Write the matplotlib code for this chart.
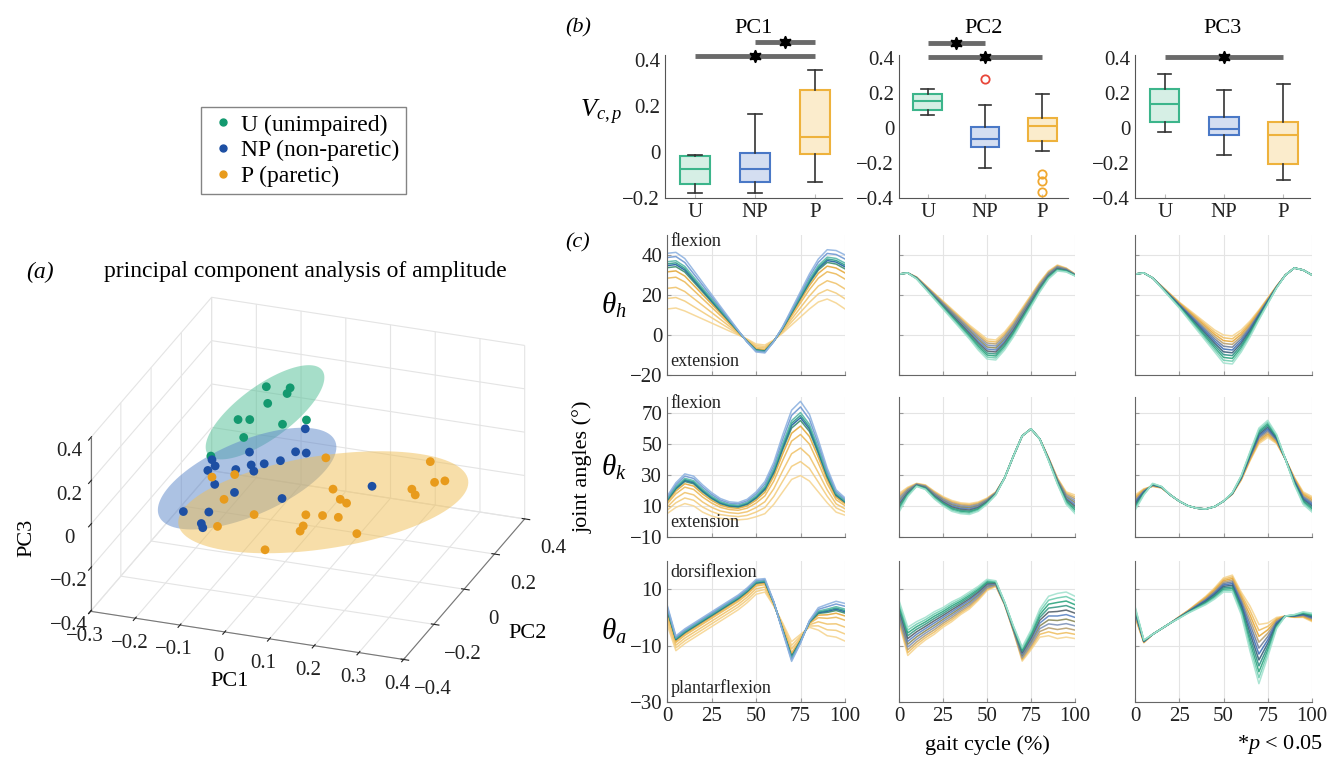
import numpy as np
import matplotlib
matplotlib.use("Agg")
import matplotlib.pyplot as plt
from matplotlib.lines import Line2D
from mpl_toolkits.mplot3d.art3d import Poly3DCollection

plt.rcParams['font.family'] = ['Liberation Serif', 'DejaVu Serif']
plt.rcParams['mathtext.fontset'] = 'custom'
plt.rcParams['mathtext.rm'] = 'Liberation Serif'
plt.rcParams['mathtext.it'] = 'Liberation Serif:italic'
plt.rcParams['mathtext.bf'] = 'Liberation Serif:bold'
plt.rcParams['grid.color'] = '#e4e4e4'
plt.rcParams['grid.linewidth'] = 0.8

# ---------------- data: (a) PCA scores ----------------
u_pc1 = [-0.11, -0.05, -0.05, -0.09, -0.18, -0.12, -0.04, 0.00, -0.12, -0.19]
u_pc2 = [0.20, 0.18, 0.16, 0.15, 0.22, 0.12, 0.10, 0.14, 0.08, 0.07]
u_pc3 = [0.21, 0.24, 0.23, 0.18, 0.02, 0.12, 0.14, 0.14, 0.07, -0.03]

np_pc1 = [-0.05, -0.08, 0.04, 0.03, -0.13, -0.15, -0.07, -0.11, -0.02, 0.04,
          -0.19, -0.05, -0.09, -0.10, 0.03, -0.15, -0.11, -0.12, -0.11, 0.15]
np_pc2 = [0.28, 0.00, -0.05, 0.05, -0.10, -0.02, -0.12, 0.10, -0.08, -0.15,
          0.05, -0.06, -0.20, -0.04, -0.11, -0.23, -0.18, -0.20, -0.22, 0.13]
np_pc3 = [-0.03, 0.08, 0.16, 0.07, 0.11, 0.01, 0.10, -0.07, 0.11, 0.20,
          -0.08, 0.05, 0.09, -0.08, -0.01, -0.03, -0.06, -0.10, -0.10, -0.11]

p_pc1 = [0.04, 0.26, -0.13, -0.13, 0.30, 0.34, 0.10, 0.30, 0.25, -0.12, 0.15,
         0.11, -0.09, 0.09, 0.08, 0.21, -0.05, 0.03, 0.04, 0.16, 0.08]
p_pc2 = [0.15, 0.19, 0.05, -0.10, 0.10, 0.05, 0.02, -0.05, 0.12, -0.05, -0.08,
         0.08, 0.06, -0.13, 0.01, -0.27, -0.30, 0.03, -0.02, 0.00, -0.37]
p_pc3 = [-0.03, -0.01, -0.08, 0.03, -0.02, 0.04, -0.05, 0.07, -0.11, -0.11, 0.00,
         -0.16, -0.26, -0.05, -0.17, 0.09, -0.01, -0.25, -0.23, -0.22, -0.02]

# confidence ellipses: centre and two semi-axis vectors (PC1, PC2, PC3)
u_ell_center = [-0.096, 0.15, 0.137]
u_ell_axis1 = [0.128, 0.0, 0.234]
u_ell_axis2 = [0.035, 0.0, -0.088]
np_ell_center = [-0.065, -0.06, 0.011]
np_ell_axis1 = [0.197, 0.0, 0.235]
np_ell_axis2 = [0.032, 0.0, -0.149]
p_ell_center = [0.085, 0.0, -0.099]
p_ell_axis1 = [0.324, 0.0, 0.204]
p_ell_axis2 = [0.014, 0.0, -0.208]

group_labels = ['U (unimpaired)', 'NP (non-paretic)', 'P (paretic)']

# ---------------- data: (b) box plots ----------------
box_labels = ['U', 'NP', 'P']
pc1_whislo = [-0.18, -0.18, -0.13]
pc1_q1 = [-0.14, -0.13, -0.01]
pc1_med = [-0.075, -0.074, 0.065]
pc1_q3 = [-0.02, -0.005, 0.27]
pc1_whishi = [-0.013, 0.165, 0.356]
pc1_fliers = [[], [], []]

pc2_whislo = [0.073, -0.229, -0.133]
pc2_q1 = [0.103, -0.11, -0.074]
pc2_med = [0.156, -0.063, 0.011]
pc2_q3 = [0.193, 0.004, 0.055]
pc2_whishi = [0.223, 0.13, 0.194]
pc2_fliers = [[], [0.278], [-0.265, -0.303, -0.367]]

pc3_whislo = [-0.021, -0.151, -0.295]
pc3_q1 = [0.035, -0.036, -0.203]
pc3_med = [0.138, -0.004, -0.036]
pc3_q3 = [0.223, 0.067, 0.035]
pc3_whishi = [0.312, 0.217, 0.255]
pc3_fliers = [[], [], []]

# significance bars: (from group, to group, level)
pc1_sig = [(1, 3, 0.417), (2, 3, 0.478)]
pc2_sig = [(1, 3, 0.407), (1, 2, 0.487)]
pc3_sig = [(1, 3, 0.41)]

# ---------------- data: (c) joint angle reconstructions ----------------
gait = [0, 5, 10, 15, 20, 25, 30, 35, 40, 45, 50, 55, 60, 65, 70, 75, 80, 85, 90, 95, 100]

hip_mean = [30.5, 31, 28.5, 24, 19.5, 15, 10.5, 6, 1.5, -3, -7, -7.5, -3, 3, 10, 17, 24, 30, 33.5, 32.5, 30]
knee_mean = [12, 19, 23.5, 22, 17, 13, 10, 8.5, 8, 9.5, 13, 18, 28, 42, 55, 59.5, 53, 40, 26, 15, 11]
ankle_mean = [2, -8.5, -6, -4, -2, 0, 2, 4, 6, 8.5, 11.5, 12, 5, -4, -13, -8, -2, 0.5, 0.5, 1, 0]

hip_pc1 = [17.5, 17.5, 16.5, 14, 11.5, 9, 6.5, 4, 1.5, -1, -2.5, -2.5, -0.5, 2, 5, 8, 11, 13.5, 15.5, 16.5, 17]
hip_pc2 = [0, 0, -0.5, -1, -1.5, -2, -2.5, -3, -3.5, -4.5, -5, -5, -4.5, -4, -3.5, -3, -2.5, -2, -1.5, -1, -0.5]
hip_pc3 = [0, 0, 0, -0.5, -1, -1.5, -2.5, -3.5, -4.5, -5.5, -7, -7, -5.5, -4, -2.5, -1.5, -0.5, 0, 0, 0, 0]

knee_pc1 = [7, 10, 12, 12, 11, 9.5, 8, 7, 7, 8, 10, 13, 17, 23, 28, 30, 27, 21, 14, 9, 7]
knee_pc2 = [-6, -3, -1, -1.5, -2.5, -3, -3.5, -3.5, -3.5, -3, -2, -1, 0, 0, 0, 0, 0, -1, -2, -4, -6]
knee_pc3 = [-5, -2, 1, 0.5, 0, 0, 0, 0, 0, 0, 0, 0.5, 1.5, 3, 5, 5.5, 3, 0, -2.5, -4, -5]

ankle_pc1 = [4.4, 3.3, 3.3, 3.3, 3.3, 3.3, 3.3, 3.3, 3.3, 3.3, 3.3, 3, 1, -2, -4.4, -2, 1.5, 5, 7, 8, 8.4]
ankle_pc2 = [4, 5, 4.5, 4, 4, 3.5, 3.5, 3, 3, 2.5, 2, 1, 0.5, 1, 2.5, 3.5, 5, 7, 8, 8, 7.5]
ankle_pc3 = [2, 0.5, 0, 0, 0, -0.3, -0.5, -1, -1.5, -2, -2.5, -3, -4, -8, -10.5, -6, -2, 0, 0.5, 1, 1.5]

pc1_scores = [-1.0, -0.7, -0.41, -0.12, 0.06, 0.18, 0.24, 0.29, 0.35, 0.47, 0.59]
pc2_scores = [-1.0, -0.8, -0.6, -0.4, -0.2, 0.0, 0.2, 0.4, 0.6, 0.8, 1.0]
pc3_scores = [-1.0, -0.8, -0.6, -0.4, -0.2, 0.0, 0.2, 0.4, 0.6, 0.8, 1.0]

# ---------------- styles ----------------
C_U, C_NP, C_P = '#13996f', '#1d4fa3', '#e89b1c'
box_edge = ['#3cb58b', '#4a78c6', '#eeb23c']
box_face = ['#d6efe5', '#d4def1', '#fbeccc']
flier_col = ['#3cb58b', '#e8473a', '#f0a830']

col1_colors = ['#f6d592', '#f3cd80', '#f0c46e', '#ecba5a', '#e4a93c', '#3c8f6e',
               '#1f5fa0', '#2f9a8a', '#58b8a8', '#6f98d2', '#8fb3e0']
col2_colors = ['#f6d592', '#efbf63', '#b8a070', '#7f93b8', '#8a8a5a', '#5c84c4',
               '#55606a', '#3a9a86', '#2ca57e', '#6fcdb0', '#a3e2cf']
col3_colors = ['#f6d592', '#efbf63', '#e6a83a', '#b8a070', '#6f7f9a', '#3f6fb6',
               '#3a5f7a', '#2f8f86', '#2ca57e', '#6fcdb0', '#a3e2cf']

W, H = 1342, 760
fig = plt.figure(figsize=(W / 100, H / 100), dpi=100)


def rect(l, t, r, b):
    return [l / W, 1 - b / H, (r - l) / W, (b - t) / H]


fmt = lambda v: '0' if abs(v) < 1e-9 else ('%g' % v).replace('-', '\u2212')

# ================= (a) 3D scatter =================
ax3 = fig.add_axes(rect(21, 240, 581, 730), projection='3d', proj_type='ortho',
                   computed_zorder=False)
ax3.patch.set_visible(False)
ax3.view_init(elev=25, azim=-70)
ax3.set_box_aspect((336, 357, 193), zoom=1.035)
ax3.set_xlim(-0.3, 0.4)
ax3.set_ylim(-0.4, 0.4)
ax3.set_zlim(-0.4, 0.4)
for axis in (ax3.xaxis, ax3.yaxis, ax3.zaxis):
    axis.set_pane_color((1, 1, 1, 0))
    axis.pane.set_edgecolor('#e4e4e4')
    axis.line.set_color('#777777')
ax3.zaxis.set_ticks_position('lower')
ax3.zaxis.set_label_position('lower')
ax3.set_xticks([-0.3, -0.2, -0.1, 0, 0.1, 0.2, 0.3, 0.4])
ax3.set_yticks([-0.4, -0.2, 0, 0.2, 0.4])
ax3.set_zticks([-0.4, -0.2, 0, 0.2, 0.4])
ax3.set_xticklabels([fmt(v) for v in ax3.get_xticks()])
ax3.set_yticklabels([fmt(v) for v in ax3.get_yticks()])
ax3.set_zticklabels([fmt(v) for v in ax3.get_zticks()])
ax3.tick_params(labelsize=15, colors='#222222')
ax3.tick_params(axis='x', pad=1)
ax3.tick_params(axis='y', pad=9)
ax3.tick_params(axis='z', pad=1)
ax3.set_xlabel('PC1', fontsize=16, labelpad=6)
ax3.set_ylabel('PC2', fontsize=16, labelpad=16)
ax3.zaxis.set_rotate_label(False)
ax3.set_zlabel('PC3', fontsize=16, labelpad=6, rotation=90)

t = np.linspace(0, 2 * np.pi, 120)
for cen, a1, a2, col, al in [
        (u_ell_center, u_ell_axis1, u_ell_axis2, '#4fbf94', 0.5),
        (np_ell_center, np_ell_axis1, np_ell_axis2, '#5b86c9', 0.5),
        (p_ell_center, p_ell_axis1, p_ell_axis2, '#f0bf55', 0.5)]:
    c = np.array(cen)[:, None]
    pts = c + np.outer(a1, np.cos(t)) + np.outer(a2, np.sin(t))
    poly = Poly3DCollection([list(zip(pts[0], pts[1], pts[2]))],
                            facecolor=col, alpha=al, edgecolor='none')
    ax3.add_collection3d(poly)

for xs, ys, zs, col in [(u_pc1, u_pc2, u_pc3, C_U), (np_pc1, np_pc2, np_pc3, C_NP),
                        (p_pc1, p_pc2, p_pc3, C_P)]:
    ax3.scatter(xs, ys, zs, s=40, color=col, depthshade=False, edgecolors='none')

fig.text(40 / W, 1 - 272 / H, '(a)', fontsize=17, style='italic', ha='center', va='center')
fig.text(305 / W, 1 - 272 / H, 'principal component analysis of amplitude',
         fontsize=17, ha='center', va='center')

handles = [Line2D([], [], ls='none', marker='o', ms=5, color=c, label=l)
           for c, l in zip([C_U, C_NP, C_P], group_labels)]
leg = fig.legend(handles=handles, loc='upper left', bbox_to_anchor=(201 / W, 1 - 107 / H),
                 fontsize=17, frameon=True, fancybox=False, handletextpad=0.1,
                 handlelength=1.3, borderpad=0.3, labelspacing=0.18, borderaxespad=0)
leg.get_frame().set_edgecolor('#666666')
leg.get_frame().set_linewidth(1.0)

# ================= (b) box plots =================
box_sets = [
    ('PC1', pc1_whislo, pc1_q1, pc1_med, pc1_q3, pc1_whishi, pc1_fliers, pc1_sig,
     (-0.2, 0.42), [-0.2, 0, 0.2, 0.4], (665, 842)),
    ('PC2', pc2_whislo, pc2_q1, pc2_med, pc2_q3, pc2_whishi, pc2_fliers, pc2_sig,
     (-0.4, 0.417), [-0.4, -0.2, 0, 0.2, 0.4], (899, 1068)),
    ('PC3', pc3_whislo, pc3_q1, pc3_med, pc3_q3, pc3_whishi, pc3_fliers, pc3_sig,
     (-0.4, 0.42), [-0.4, -0.2, 0, 0.2, 0.4], (1135, 1310)),
]
for title, wlo, q1, med, q3, whi, fl, sig, ylim, yt, (l, r) in box_sets:
    ax = fig.add_axes(rect(l, 55, r, 198))
    for i in range(3):
        st = [dict(whislo=wlo[i], q1=q1[i], med=med[i], q3=q3[i], whishi=whi[i],
                   fliers=fl[i], label=box_labels[i])]
        ax.bxp(st, positions=[i + 1], widths=0.5, patch_artist=True, capwidths=0.22,
               boxprops=dict(facecolor=box_face[i], edgecolor=box_edge[i], linewidth=1.5),
               medianprops=dict(color=box_edge[i], linewidth=1.5),
               whiskerprops=dict(color='#333333', linewidth=1.2),
               capprops=dict(color='#333333', linewidth=1.2),
               flierprops=dict(marker='o', markerfacecolor='none',
                               markeredgecolor=flier_col[i], markersize=6, markeredgewidth=1.3))
    for g1, g2, lev in sig:
        ax.plot([g1, g2], [lev, lev], color='#6a6a6a', lw=3.5, clip_on=False,
                solid_capstyle='butt', zorder=5)
        ax.plot([(g1 + g2) / 2], [lev], marker=(6, 1, 0), ms=9, color='k',
                clip_on=False, zorder=6, ls='none')
    ax.set_xlim(0.5, 3.45)
    ax.set_ylim(*ylim)
    ax.set_yticks(yt)
    ax.set_yticklabels([fmt(v) for v in yt])
    ax.set_xticks([1, 2, 3])
    ax.set_xticklabels(box_labels)
    for s in ('top', 'right'):
        ax.spines[s].set_visible(False)
    for s in ('left', 'bottom'):
        ax.spines[s].set_color('#555555')
    ax.tick_params(axis='both', labelsize=15, direction='in', length=3, colors='#bbbbbb',
                   labelcolor='#222222')
    ax.tick_params(axis='y', length=0)
    ax.set_title(title, fontsize=16, pad=16)
    if title == 'PC1':
        ax.set_ylabel(r'$V_{c,p}$', fontsize=19, rotation=0, labelpad=18, va='center')
        ax.yaxis.set_label_coords(-0.36, 0.6)

fig.text(578 / W, 1 - 28 / H, '(b)', fontsize=16, style='italic', ha='center', va='center')

# ================= (c) line families =================
rows = [
    (hip_mean, [hip_pc1, hip_pc2, hip_pc3], (-20, 50), [-20, 0, 20, 40], (235, 375),
     r'$\theta_h$', ('flexion', 46.5), ('extension', -13)),
    (knee_mean, [knee_pc1, knee_pc2, knee_pc3], (-10, 80), [-10, 10, 30, 50, 70], (397, 537),
     r'$\theta_k$', ('flexion', 76), ('extension', -0.5)),
    (ankle_mean, [ankle_pc1, ankle_pc2, ankle_pc3], (-30, 20), [-30, -10, 10], (561, 702),
     r'$\theta_a$', ('dorsiflexion', 16), ('plantarflexion', -25)),
]
cols = [(667, 845), (899, 1075), (1135, 1312)]
scores = [pc1_scores, pc2_scores, pc3_scores]
colors = [col1_colors, col2_colors, col3_colors]
g = np.array(gait, dtype=float)
for ri, (mean, modes, ylim, yt, (t0, b0), ylab, top_txt, bot_txt) in enumerate(rows):
    for ci, (l, r) in enumerate(cols):
        ax = fig.add_axes(rect(l, t0, r, b0))
        m = np.array(mean, dtype=float)
        md = np.array(modes[ci], dtype=float)
        for s, c in zip(scores[ci], colors[ci]):
            ax.plot(g, m + s * md, color=c, lw=1.1, alpha=0.9)
        ax.set_xlim(0, 100)
        ax.set_ylim(*ylim)
        ax.set_xticks([0, 25, 50, 75, 100])
        ax.set_yticks(yt)
        ax.grid(True)
        ax.set_axisbelow(True)
        for s in ('top', 'right'):
            ax.spines[s].set_visible(False)
        for s in ('left', 'bottom'):
            ax.spines[s].set_color('#666666')
        ax.tick_params(axis='both', labelsize=15, direction='in', length=3,
                       colors='#999999', labelcolor='#222222')
        if ci == 0:
            ax.set_yticklabels([fmt(v) for v in yt])
            ax.text(2, top_txt[1], top_txt[0], fontsize=13, ha='left', va='center', color='#222222')
            ax.text(2, bot_txt[1], bot_txt[0], fontsize=13, ha='left', va='center', color='#222222')
            ax.set_ylabel(ylab, fontsize=21, rotation=0, va='center')
            ax.yaxis.set_label_coords(-0.3, 0.5)
        else:
            ax.set_yticklabels([])
        if ri == 2:
            ax.set_xticklabels(['0', '25', '50', '75', '100'])
        else:
            ax.set_xticklabels([])

fig.text(578 / W, 1 - 243 / H, '(c)', fontsize=16, style='italic', ha='center', va='center')
fig.text(583 / W, 1 - 467 / H, 'joint angles (\u00b0)', fontsize=16, rotation=90,
         ha='center', va='center')
fig.text(987 / W, 1 - 745 / H, 'gait cycle (%)', fontsize=16, ha='center', va='center')
fig.text(1280 / W, 1 - 745 / H, r'*$p$ < 0.05', fontsize=16, ha='center', va='center')

fig.savefig('out.png', dpi=100)
